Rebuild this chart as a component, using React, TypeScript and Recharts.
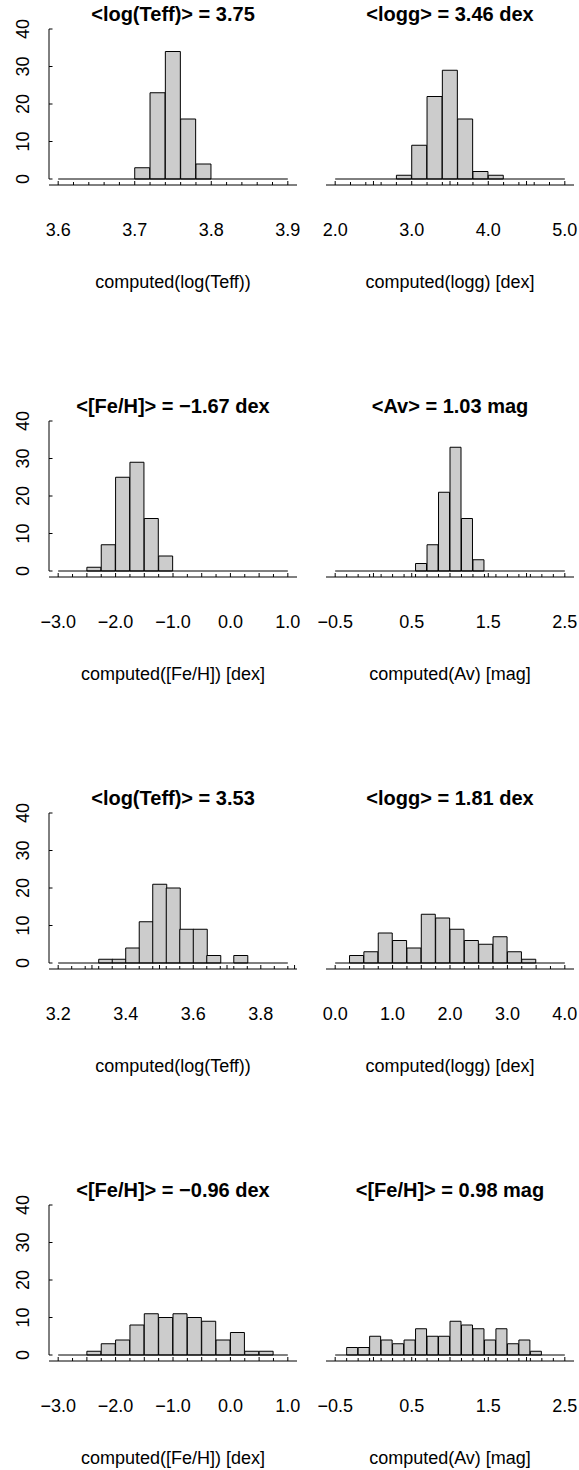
import { ComposedChart, Bar, XAxis, YAxis, ReferenceLine } from 'recharts';

const FONT = '"Liberation Sans", Arial, Helvetica, sans-serif';

// row 1, left: log(Teff)
const teffBreaksA = [3.6, 3.62, 3.64, 3.66, 3.68, 3.7, 3.72, 3.74, 3.76, 3.78, 3.8, 3.82, 3.84, 3.86, 3.88, 3.9];
const teffCountsA = [0, 0, 0, 0, 0, 3, 23, 34, 16, 4, 0, 0, 0, 0, 0];
const teffMajorsA = [3.6, 3.7, 3.8, 3.9];
const teffLabelsA = ['3.6', '3.7', '3.8', '3.9'];

// row 1, right: logg
const loggBreaksA = [2.0, 2.2, 2.4, 2.6, 2.8, 3.0, 3.2, 3.4, 3.6, 3.8, 4.0, 4.2, 4.4, 4.6, 4.8, 5.0];
const loggCountsA = [0, 0, 0, 0, 1, 9, 22, 29, 16, 2, 1, 0, 0, 0, 0];
const loggMajorsA = [2.0, 2.5, 3.0, 3.5, 4.0, 4.5, 5.0];
const loggLabelsA = ['2.0', '', '3.0', '', '4.0', '', '5.0'];

// rows 2 and 4, left: [Fe/H]
const fehBreaks = [-3.0, -2.75, -2.5, -2.25, -2.0, -1.75, -1.5, -1.25, -1.0, -0.75, -0.5, -0.25, 0, 0.25, 0.5, 0.75, 1.0];
const fehCountsA = [0, 0, 1, 7, 25, 29, 14, 4, 0, 0, 0, 0, 0, 0, 0, 0];
const fehCountsB = [0, 0, 1, 3, 4, 8, 11, 10, 11, 10, 9, 4, 6, 1, 1, 0];
const fehMajors = [-3.0, -2.5, -2.0, -1.5, -1.0, -0.5, 0, 0.5, 1.0];
const fehLabels = ['\u22123.0', '', '\u22122.0', '', '\u22121.0', '', '0.0', '', '1.0'];

// rows 2 and 4, right: Av
const avBreaks = [-0.5, -0.35, -0.2, -0.05, 0.1, 0.25, 0.4, 0.55, 0.7, 0.85, 1.0, 1.15, 1.3, 1.45, 1.6, 1.75, 1.9, 2.05, 2.2, 2.35, 2.5];
const avCountsA = [0, 0, 0, 0, 0, 0, 0, 2, 7, 21, 33, 14, 3, 0, 0, 0, 0, 0, 0, 0];
const avCountsB = [0, 2, 2, 5, 4, 3, 4, 7, 5, 5, 9, 8, 7, 4, 7, 3, 4, 1, 0, 0];
const avMajors = [-0.5, 0, 0.5, 1.0, 1.5, 2.0, 2.5];
const avLabels = ['\u22120.5', '', '0.5', '', '1.5', '', '2.5'];

// row 3, left: log(Teff)
const teffBreaksB = [3.2, 3.24, 3.28, 3.32, 3.36, 3.4, 3.44, 3.48, 3.52, 3.56, 3.6, 3.64, 3.68, 3.72, 3.76, 3.8, 3.84, 3.88];
const teffCountsB = [0, 0, 0, 1, 1, 4, 11, 21, 20, 9, 9, 2, 0, 2, 0, 0, 0];
const teffMajorsB = [3.2, 3.3, 3.4, 3.5, 3.6, 3.7, 3.8, 3.9];
const teffLabelsB = ['3.2', '', '3.4', '', '3.6', '', '3.8', ''];

// row 3, right: logg
const loggBreaksB = [0, 0.25, 0.5, 0.75, 1.0, 1.25, 1.5, 1.75, 2.0, 2.25, 2.5, 2.75, 3.0, 3.25, 3.5, 3.75, 4.0];
const loggCountsB = [0, 2, 3, 8, 6, 4, 13, 12, 9, 6, 5, 7, 3, 1, 0, 0];
const loggMajorsB = [0, 0.5, 1.0, 1.5, 2.0, 2.5, 3.0, 3.5, 4.0];
const loggLabelsB = ['0.0', '', '1.0', '', '2.0', '', '3.0', '', '4.0'];

const yTicks = [0, 10, 20, 30, 40];

const PLOT_W = 248;
const PLOT_H = 162;
const rowTops = [23, 415, 806.5, 1199];
const colLefts = [49, 326];

type PanelProps = {
  breaks: number[];
  counts: number[];
  majors: number[];
  majorLabels: string[];
  title: string;
  xTitle: string;
  showY: boolean;
  plotLeft: number;
  plotTop: number;
};

const HistPanel = ({ breaks, counts, majors, majorLabels, title, xTitle, showY, plotLeft, plotTop }: PanelProps) => {
  const lo = breaks[0];
  const hi = breaks[breaks.length - 1];
  const pad = (hi - lo) * 0.04;
  const data = counts.map((n, i) => ({ x: (breaks[i] + breaks[i + 1]) / 2, n }));
  const ticks = [...breaks, ...majors.filter(m => !breaks.some(b => Math.abs(b - m) < 1e-6))].sort((a, b) => a - b);

  const renderXTick = (p: any) => {
    const k = majors.findIndex(m => Math.abs(m - p.payload.value) < 1e-6);
    return (
      <g>
        <line x1={p.x} x2={p.x} y1={p.y} y2={p.y - (k >= 0 ? 4 : 3)} stroke="#000" strokeWidth={1} />
        {k >= 0 && majorLabels[k] ? (
          <text x={p.x} y={p.y + 51} textAnchor="middle" fontSize={18} fill="#000" fontFamily={FONT}>
            {majorLabels[k]}
          </text>
        ) : null}
      </g>
    );
  };

  const renderYTick = (p: any) => {
    const tx = p.x - 26.5;
    return (
      <g>
        <line x1={p.x} x2={p.x + 3.5} y1={p.y} y2={p.y} stroke="#000" strokeWidth={1} />
        <text
          x={tx}
          y={p.y}
          transform={`rotate(-90 ${tx} ${p.y})`}
          textAnchor="middle"
          dominantBaseline="central"
          fontSize={18}
          fill="#000"
          fontFamily={FONT}
        >
          {p.payload.value}
        </text>
      </g>
    );
  };

  return (
    <>
      <div
        style={{
          position: 'absolute',
          left: plotLeft - 40,
          top: plotTop - 19,
          width: PLOT_W + 80,
          textAlign: 'center',
          fontWeight: 'bold',
          fontSize: 20,
          lineHeight: '20px',
          whiteSpace: 'nowrap',
        }}
      >
        {title}
      </div>
      <div style={{ position: 'absolute', left: plotLeft - 49, top: plotTop - 23 }}>
        <ComposedChart
          width={49 + PLOT_W + 8}
          height={23 + PLOT_H + 110}
          data={data}
          margin={{ top: 23, right: 8, bottom: 0, left: 0 }}
          barCategoryGap={0}
          barGap={0}
        >
          <XAxis
            type="number"
            dataKey="x"
            domain={[lo - pad, hi + pad]}
            allowDataOverflow
            ticks={ticks}
            interval={0}
            height={110}
            tickSize={0}
            tickMargin={0}
            tickLine={false}
            tick={renderXTick}
            axisLine={{ stroke: '#000', strokeWidth: 1 }}
            label={{ value: xTitle, position: 'insideBottom', offset: 7, fontSize: 18, fill: '#000' }}
          />
          <YAxis
            type="number"
            domain={[-1.6, 41.6]}
            allowDataOverflow
            ticks={yTicks}
            interval={0}
            width={49}
            tickSize={0}
            tickMargin={0}
            tickLine={false}
            axisLine={false}
            tick={showY ? renderYTick : false}
          />
          <Bar dataKey="n" fill="#cccccc" stroke="#000" strokeWidth={1} isAnimationActive={false} />
          <ReferenceLine
            segment={[{ x: lo, y: 0 }, { x: hi, y: 0 }]}
            stroke="#000"
            strokeWidth={1}
            ifOverflow="visible"
          />
          {showY && (
            <ReferenceLine
              segment={[{ x: lo - pad, y: 0 }, { x: lo - pad, y: 40 }]}
              stroke="#000"
              strokeWidth={1}
              ifOverflow="visible"
            />
          )}
        </ComposedChart>
      </div>
    </>
  );
};

export default function App() {
  const panels: Omit<PanelProps, 'plotLeft' | 'plotTop'>[] = [
    { breaks: teffBreaksA, counts: teffCountsA, majors: teffMajorsA, majorLabels: teffLabelsA, title: '<log(Teff)> = 3.75', xTitle: 'computed(log(Teff))', showY: true },
    { breaks: loggBreaksA, counts: loggCountsA, majors: loggMajorsA, majorLabels: loggLabelsA, title: '<logg> = 3.46 dex', xTitle: 'computed(logg) [dex]', showY: false },
    { breaks: fehBreaks, counts: fehCountsA, majors: fehMajors, majorLabels: fehLabels, title: '<[Fe/H]> = \u22121.67 dex', xTitle: 'computed([Fe/H]) [dex]', showY: true },
    { breaks: avBreaks, counts: avCountsA, majors: avMajors, majorLabels: avLabels, title: '<Av> = 1.03 mag', xTitle: 'computed(Av) [mag]', showY: false },
    { breaks: teffBreaksB, counts: teffCountsB, majors: teffMajorsB, majorLabels: teffLabelsB, title: '<log(Teff)> = 3.53', xTitle: 'computed(log(Teff))', showY: true },
    { breaks: loggBreaksB, counts: loggCountsB, majors: loggMajorsB, majorLabels: loggLabelsB, title: '<logg> = 1.81 dex', xTitle: 'computed(logg) [dex]', showY: false },
    { breaks: fehBreaks, counts: fehCountsB, majors: fehMajors, majorLabels: fehLabels, title: '<[Fe/H]> = \u22120.96 dex', xTitle: 'computed([Fe/H]) [dex]', showY: true },
    { breaks: avBreaks, counts: avCountsB, majors: avMajors, majorLabels: avLabels, title: '<[Fe/H]> = 0.98 mag', xTitle: 'computed(Av) [mag]', showY: false },
  ];

  return (
    <div
      style={{
        position: 'absolute',
        left: 0,
        top: 0,
        width: 579,
        height: 1470,
        overflow: 'hidden',
        background: '#fff',
        fontFamily: FONT,
        color: '#000',
      }}
    >
      {panels.map((p, i) => (
        <HistPanel key={i} {...p} plotLeft={colLefts[i % 2]} plotTop={rowTops[Math.floor(i / 2)]} />
      ))}
    </div>
  );
}
